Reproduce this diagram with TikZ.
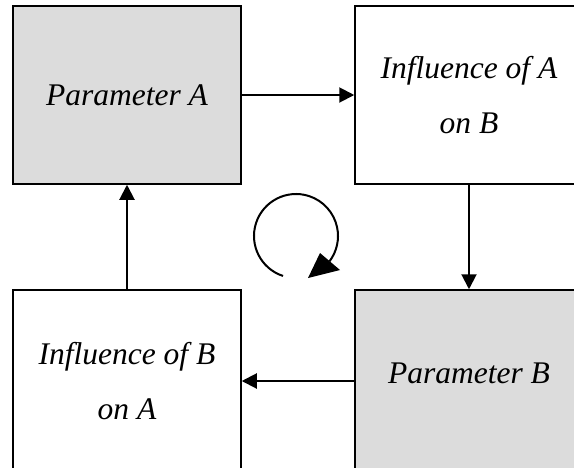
\documentclass[tikz,border=0pt]{standalone}
\usepackage{fontspec}
\setmainfont{Liberation Serif}[ItalicFont={Liberation Serif Italic}]
\usetikzlibrary{arrows.meta,calc}
\definecolor{boxgray}{RGB}{220,220,220}
\begin{document}
\begin{tikzpicture}[x=1pt,y=-1pt,
  block/.style={draw=black, line width=1.5pt, minimum width=228pt, minimum height=178pt,
    inner sep=0pt, align=center, font=\fontsize{31.5}{55}\selectfont\itshape},
  param/.style={block, fill=boxgray},
  infl/.style={block, fill=white},
  lower/.style={minimum height=182pt},
  link/.style={line width=2pt, -{Triangle[length=15pt,width=15pt]}}]
  \useasboundingbox (0,0) rectangle (574,467);
  \clip (0,0) rectangle (574,467);

  % the four blocks of the loop
  \node[param] (pa)    at (127,95)  {Parameter A};
  \node[infl]  (infab) at (469,95)  {Influence of A\\on B};
  \node[param, lower, text depth=15pt] (pb) at (469,381) {Parameter B};
  \node[infl, lower]   (infba) at (127,381) {Influence of B\\on A};

  % connectors around the loop
  \draw[link] (pa.east) -- (infab.west);
  \draw[link] (infab.south) -- (pb.north);
  \draw[link] (pb.west) -- (infba.east);
  \draw[link] (infba.north) -- (pa.south);

  % clockwise rotation symbol in the middle
  \coordinate (rot) at (296,236);
  \draw[line width=2pt] ($(rot)+(108:42)$) arc[start angle=108, end angle=397, radius=42];
  \fill ($(rot)+(12,42)$) -- ($(rot)+(24,17)$) -- ($(rot)+(44,34)$) -- cycle;
\end{tikzpicture}
\end{document}
